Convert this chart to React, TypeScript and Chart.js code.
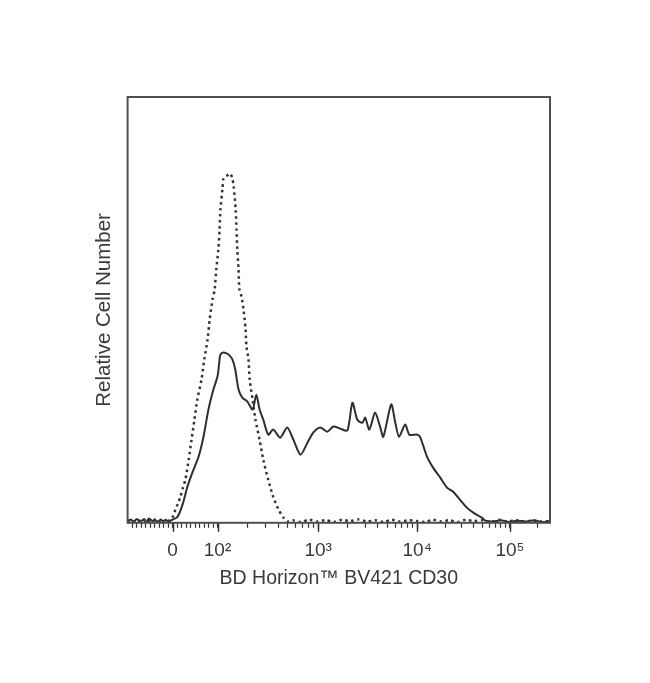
import React, { useEffect, useRef } from "react";
import { Chart, registerables } from "chart.js";

Chart.register(...registerables);

// Histogram channels (0–1024 display channels of a biexponential axis) and relative counts (0–100)
const isotypeChannels = [
  0, 10, 19, 25, 31, 40, 48, 55, 61, 68, 75, 82, 87, 92, 97, 104, 110, 116, 122, 128,
  134, 140, 148, 155, 162, 169, 179, 186, 194, 199, 206, 211, 215, 220, 223, 225, 230, 232, 237, 242,
  246, 249, 253, 257, 262, 264, 266, 269, 271, 276, 281, 286, 288, 293, 296, 303, 310, 320, 329, 341,
  353, 366, 378, 387, 400, 420, 440, 460, 480, 500, 520, 540, 560, 580, 600, 620, 640, 660, 680, 700,
  720, 740, 760, 780, 800, 820, 840, 860, 880, 900, 920, 940, 960, 980, 1000, 1024,
];
const isotypeCounts = [
  0.3, 0.6, 0.2, 0.7, 0.3, 0.8, 0.2, 0.6, 0.4, 0.9, 0.3, 0.7, 0.2, 0.6, 0.3, 0.8, 1.5, 3.1, 4.5, 6.1,
  8.2, 10.1, 14.8, 19.5, 24.2, 28.9, 33.6, 38.4, 43.1, 47.8, 52.5, 54.8, 59.5, 64.2, 68.9, 73.6, 78.4, 80.7, 81.4, 81.6,
  81.9, 82.0, 81.2, 79.1, 73.6, 68.9, 64.2, 59.5, 54.8, 53.2, 50.1, 45.4, 41.5, 38.4, 33.6, 28.9, 24.2, 19.5, 14.8, 10.1,
  6.1, 3.1, 1.2, 0.3, 0.6, 0.2, 0.7, 0.3, 0.6, 0.2, 0.7, 0.4, 0.8, 0.3, 0.6, 0.2, 0.7, 0.3, 0.6, 0.4,
  0.2, 0.7, 0.3, 0.6, 0.2, 0.7, 0.4, 0.6, 0.2, 0.7, 0.3, 0.6, 0.2, 0.5, 0.3, 0.4,
];

const cd30Channels = [
  0, 8, 15, 22, 30, 38, 45, 52, 60, 67, 74, 80, 86, 92, 99, 110, 121, 133, 145, 157,
  172, 184, 196, 208, 218, 222, 225, 232, 240, 245, 254, 261, 269, 278, 290, 303, 312, 320, 329, 341,
  353, 370, 387, 402, 419, 436, 450, 467, 484, 499, 516, 533, 545, 557, 569, 576, 586, 600, 612, 620,
  639, 649, 658, 673, 683, 702, 709, 726, 741, 758, 775, 789, 806, 823, 838, 859, 867, 885, 905, 925,
  945, 965, 985, 1005, 1024,
];
const cd30Counts = [
  0.4, 0.8, 0.2, 0.9, 0.3, 0.7, 0.2, 1.0, 0.4, 0.6, 0.2, 0.8, 0.3, 0.7, 0.3, 0.8, 1.4, 4.2, 8.5, 11.8,
  15.5, 20.2, 26.6, 31.3, 34.4, 37.5, 39.5, 40.0, 39.8, 39.5, 38.4, 36.0, 31.3, 29.4, 28.5, 26.6, 30.1, 26.6, 24.2, 20.7,
  21.9, 20.0, 22.4, 19.5, 16.0, 18.8, 21.2, 22.4, 21.4, 22.6, 22.1, 21.7, 28.2, 24.2, 23.5, 24.7, 21.9, 25.9, 22.6, 20.2,
  27.8, 23.5, 20.2, 23.1, 20.7, 20.7, 20.2, 15.5, 12.9, 10.6, 8.2, 7.3, 5.4, 3.5, 2.4, 1.2, 0.5, 0.3, 0.6, 0.2,
  0.5, 0.3, 0.6, 0.2, 0.4,
];

// Axis ticks: decade values, their channels on the biexponential axis, and their labels
const majorTickValues = [0, 100, 1000, 10000, 100000];
const majorTickChannels = [109, 218, 462, 702, 927];
const majorTickLabels = ["0", "10\u00B2", "10\u00B3", "10\u2074", "10\u2075"];
const minorTickValues = [
  -90, -80, -70, -60, -50, -40, -30, -20, -10,
  10, 20, 30, 40, 50, 60, 70, 80, 90,
  200, 300, 400, 500, 600, 700, 800, 900,
  2000, 3000, 4000, 5000, 6000, 7000, 8000, 9000,
  20000, 30000, 40000, 50000, 60000, 70000, 80000, 90000,
  200000,
];

const X_MIN = 0;
const X_MAX = 1024;

function valueToChannel(v: number): number {
  const c0 = majorTickChannels[0];
  const c1 = majorTickChannels[1];
  if (v <= 100) return c0 + ((c1 - c0) * v) / 100;
  const d = Math.floor(Math.log10(v));
  const i = d - 1; // index of 10^d in majorTickValues
  const a = majorTickChannels[i];
  const b =
    i + 1 < majorTickChannels.length
      ? majorTickChannels[i + 1]
      : a + (a - majorTickChannels[i - 1]);
  return a + (b - a) * (Math.log10(v) - d);
}

const TEXT = "#3a3a3a";
const FRAME = "#505050";
const FONT = "'Liberation Sans', Arial, sans-serif";

export default function App() {
  const canvasRef = useRef<HTMLCanvasElement | null>(null);

  useEffect(() => {
    const canvas = canvasRef.current;
    if (!canvas) return;

    const majorSet = new Map<number, string>();
    majorTickValues.forEach((v, i) => majorSet.set(majorTickChannels[i], majorTickLabels[i]));
    const minorChannels = minorTickValues
      .map(valueToChannel)
      .filter((c) => c >= X_MIN && c <= X_MAX);

    const framePlugin = {
      id: "frameAndTicks",
      afterDraw(chart: any) {
        const { ctx, chartArea } = chart;
        const xs = chart.scales.x;
        ctx.save();
        // longer major ticks
        ctx.strokeStyle = "#333";
        ctx.lineWidth = 1.5;
        majorTickChannels.forEach((c) => {
          const px = Math.round(xs.getPixelForValue(c)) + 0.5;
          ctx.beginPath();
          ctx.moveTo(px, chartArea.bottom);
          ctx.lineTo(px, chartArea.bottom + 9);
          ctx.stroke();
        });
        // frame
        ctx.strokeStyle = FRAME;
        ctx.lineWidth = 2;
        ctx.strokeRect(
          chartArea.left,
          chartArea.top,
          chartArea.right - chartArea.left,
          chartArea.bottom - chartArea.top
        );
        ctx.restore();
      },
    };

    const chart = new Chart(canvas, {
      type: "line",
      data: {
        datasets: [
          {
            label: "Isotype control",
            data: isotypeChannels.map((x, i) => ({ x, y: isotypeCounts[i] })),
            borderColor: "#333",
            borderWidth: 2.5,
            borderDash: [2.5, 3.5],
            pointRadius: 0,
            tension: 0.25,
            fill: false,
          },
          {
            label: "CD30",
            data: cd30Channels.map((x, i) => ({ x, y: cd30Counts[i] })),
            borderColor: "#2e2e2e",
            borderWidth: 2,
            pointRadius: 0,
            tension: 0.25,
            fill: false,
          },
        ],
      },
      options: {
        animation: false,
        responsive: false,
        events: [],
        layout: { padding: { top: 97, right: 100, bottom: 93, left: 92 } },
        plugins: {
          legend: { display: false },
          tooltip: { enabled: false },
        },
        scales: {
          x: {
            type: "linear",
            min: X_MIN,
            max: X_MAX,
            afterBuildTicks: (axis: any) => {
              const all = [...majorTickChannels, ...minorChannels].sort((a, b) => a - b);
              axis.ticks = all.map((v) => ({ value: v }));
            },
            ticks: {
              autoSkip: false,
              maxRotation: 0,
              minRotation: 0,
              padding: 12,
              color: TEXT,
              font: { family: FONT, size: 19 },
              callback: (value: any) => majorSet.get(Number(value)) ?? "",
            },
            grid: {
              drawOnChartArea: false,
              drawTicks: true,
              tickLength: 5,
              tickColor: "#333",
              tickWidth: 1.2,
            },
            border: { display: false },
            title: {
              display: true,
              text: "BD Horizon\u2122 BV421 CD30",
              color: TEXT,
              font: { family: FONT, size: 19.5 },
              padding: { top: -8, bottom: 0 },
            },
          },
          y: {
            type: "linear",
            min: 0,
            max: 100,
            ticks: { display: false },
            grid: { display: false, drawTicks: false },
            border: { display: false },
            title: {
              display: true,
              text: "Relative Cell Number",
              color: TEXT,
              font: { family: FONT, size: 20.5 },
              padding: { top: 0, bottom: 11 },
            },
          },
        },
      },
      plugins: [framePlugin],
    });

    return () => chart.destroy();
  }, []);

  return (
    <div style={{ position: "absolute", left: 0, top: 0, width: 650, height: 683, background: "#fff" }}>
      <canvas ref={canvasRef} width={650} height={683} />
    </div>
  );
}
